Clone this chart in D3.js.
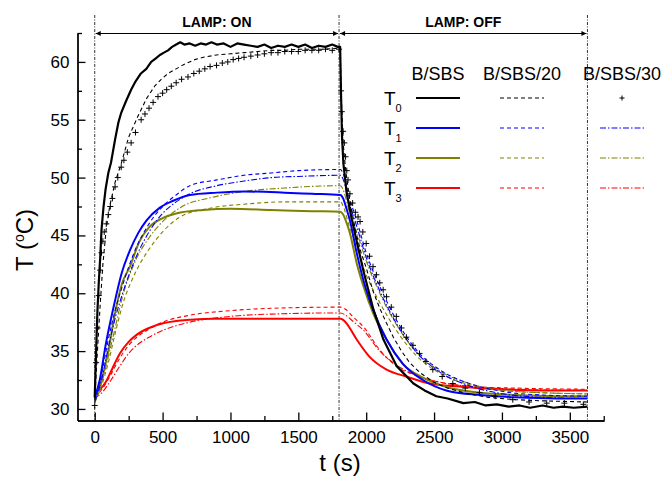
<!DOCTYPE html>
<html>
<head>
<meta charset="utf-8">
<script src="https://cdn.jsdelivr.net/npm/d3@7/dist/d3.min.js"></script>
<style>
body { margin: 0; background: #fff; }
svg { font-family: "Liberation Sans", Arial, sans-serif; }
.axis path, .axis line { stroke: #000; stroke-width: 1.3; }
.axis text { font-size: 17px; fill: #000; }
</style>
</head>
<body>
<svg id="chart" width="666" height="480"></svg>
<script>

// lamp on / lamp off / end of record (s)
var lampTimes = [ 0, 1800, 3630 ];
var lampLabels = [ 'LAMP: ON', 'LAMP: OFF' ];

var xTicks = [ 0, 500, 1000, 1500, 2000, 2500, 3000, 3500 ];
var xMinor = [ 250, 750, 1250, 1750, 2250, 2750, 3250, 3750 ];
var yTicks = [ 30, 35, 40, 45, 50, 55, 60 ];
var yMinor = [ 32.5, 37.5, 42.5, 47.5, 52.5, 57.5, 62.5 ];

var columns = [ 'B/SBS', 'B/SBS/20', 'B/SBS/30' ];
var rows = [ '0', '1', '2', '3' ];

// [t (s), T (°C)]
var bsbs_T0 = [[0,31],[5,33],[10,35],[20,38.5],[30,41],[40,43],[50,45.5],[65,47.5],[80,49],[100,50.4],[120,51.3],[150,53.3],[175,54.8],[195,55.6],[230,56.6],[268,57.6],[300,58.3],[340,59],[380,59.4],[416,60],[450,60.3],[480,60.6],[510,60.8],[540,61],[570,61.3],[600,61.5],[630,61.7],[660,61.5],[700,61.6],[740,61.4],[780,61.6],[820,61.5],[860,61.7],[900,61.5],[950,61.6],[1000,61.3],[1050,61.6],[1100,61.5],[1150,61.4],[1200,61.3],[1250,61.5],[1300,61.2],[1350,61.4],[1400,61.3],[1450,61.5],[1500,61.3],[1550,61.5],[1600,61.2],[1650,61.4],[1700,61.3],[1750,61.5],[1790,61.3],[1808,61.3],[1815,57],[1822,53.5],[1832,51.2],[1857,48.6],[1894,46.4],[1930,44.5],[1980,41.9],[2053,38.6],[2127,36],[2225,33.7],[2348,32.2],[2430,31.6],[2517,31.1],[2600,30.9],[2716,30.5],[2800,30.6],[2880,30.3],[2962,30.4],[3050,30.2],[3130,30.3],[3207,30.1],[3300,30.3],[3380,30.1],[3450,30.2],[3530,30.1],[3630,30.2]];
var bsbs_T1 = [[0,31],[37,32.5],[80,35.5],[135,38.6],[200,41.8],[259,43.7],[320,45.2],[382,46.3],[480,47.4],[578,48],[700,48.5],[900,48.7],[1100,48.8],[1400,48.7],[1600,48.6],[1810,48.5],[1830,48.2],[1855,47.3],[1880,46.3],[1930,43.5],[1980,41.1],[2050,38.6],[2150,36],[2270,33.9],[2418,32.5],[2590,31.6],[2840,31.2],[3100,31],[3400,30.9],[3630,30.9]];
var bsbs_T2 = [[0,30.8],[50,32.5],[100,35],[150,38.3],[200,40.8],[259,42.3],[330,44.5],[400,45.7],[500,46.5],[600,46.9],[800,47.2],[1000,47.3],[1300,47.2],[1600,47.1],[1810,47.05],[1830,46.8],[1855,46.1],[1880,45.2],[1930,42.6],[1980,40.6],[2050,38.3],[2150,36],[2270,33.9],[2418,32.7],[2590,31.9],[2840,31.4],[3100,31.2],[3400,31.1],[3630,31.1]];
var bsbs_T3 = [[0,31.5],[40,31.7],[80,32.3],[130,33.5],[185,34.8],[250,35.8],[308,36.4],[400,37],[503,37.4],[600,37.6],[700,37.7],[873,37.8],[1200,37.8],[1500,37.8],[1810,37.8],[1830,37.7],[1855,37.4],[1930,36],[2025,34.5],[2150,33.4],[2296,32.8],[2470,32.2],[2716,31.9],[3000,31.7],[3300,31.6],[3630,31.6]];

var bsbs20_T0 = [[0,30.8],[20,35],[40,39],[60,42.5],[84,45.5],[110,47.5],[150,49.6],[195,51.2],[250,53.5],[318,55.3],[380,56.8],[441,57.9],[490,58.5],[540,59],[600,59.4],[660,59.8],[737,60.2],[800,60.4],[897,60.6],[1000,60.7],[1100,60.8],[1200,60.9],[1300,61],[1400,61],[1500,61.1],[1600,61.1],[1700,61.1],[1808,61.2],[1818,56.5],[1830,53],[1850,50.5],[1880,48],[1920,45.5],[1960,43.6],[2000,42.2],[2050,40.2],[2100,38.7],[2150,37.4],[2200,36.2],[2260,35],[2320,34],[2400,33.1],[2500,32.3],[2600,31.8],[2750,31.3],[2900,31],[3100,30.8],[3300,30.7],[3630,30.6]];
var bsbs20_T1 = [[0,30.8],[50,33],[100,36],[150,38.5],[200,40.5],[300,43.8],[400,46],[500,47.5],[600,48.5],[700,49.3],[900,49.8],[1100,50.2],[1300,50.4],[1500,50.6],[1810,50.7],[1835,50.2],[1870,48.5],[1930,46.3],[2000,43.5],[2100,40.6],[2222,37.7],[2370,35.1],[2540,33.4],[2760,32.2],[3010,31.5],[3300,31.2],[3630,31.1]];
var bsbs20_T2 = [[0,30.6],[50,32],[100,34],[150,36.5],[200,38.8],[300,41.8],[400,43.8],[500,45.3],[630,46.6],[870,47.4],[1100,47.7],[1400,47.9],[1810,47.9],[1835,47.4],[1870,46],[1930,44],[2000,41.6],[2100,39.2],[2222,36.8],[2370,34.6],[2540,33.1],[2760,32.1],[3010,31.6],[3300,31.4],[3630,31.3]];
var bsbs20_T3 = [[0,31],[60,31.8],[120,33],[185,34.4],[250,35.5],[300,36.1],[400,36.9],[500,37.5],[700,38.1],[1000,38.5],[1300,38.7],[1810,38.8],[1850,38.6],[1900,38],[1980,37.1],[2100,35.1],[2222,33.7],[2393,32.8],[2590,32.2],[2840,31.9],[3100,31.8],[3630,31.7]];

var bsbs30_T0 = [[0,30.3],[10,34],[20,37],[30,39.8],[40,42],[50,43.5],[60,44.5],[70,45.3],[85,46],[100,46.8],[115,47.5],[130,48.2],[150,49.2],[170,50],[195,50.9],[215,51.5],[240,52.2],[268,53],[300,53.9],[342,55],[370,55.5],[400,56],[430,56.5],[466,57],[500,57.3],[530,57.6],[564,57.9],[600,58.2],[640,58.5],[687,58.7],[730,59],[770,59.2],[811,59.4],[850,59.6],[897,59.7],[940,59.9],[980,60],[1020,60.2],[1060,60.3],[1100,60.4],[1150,60.5],[1200,60.6],[1250,60.7],[1300,60.8],[1350,60.8],[1400,60.9],[1450,60.9],[1500,60.9],[1550,61],[1600,61],[1650,61],[1700,61.1],[1750,61],[1800,61.1],[1815,57.5],[1820,55.7],[1830,54],[1839,53],[1848,51.8],[1857,50.6],[1866,49.8],[1880,48.6],[1900,47.8],[1920,47],[1940,46.6],[1955,46.2],[1975,45.3],[2000,44.3],[2025,43.2],[2050,42.3],[2075,41.6],[2100,40.9],[2125,40.3],[2150,39.7],[2185,38.8],[2222,38],[2260,37],[2296,36.2],[2345,35.5],[2393,34.8],[2440,34.1],[2491,33.4],[2560,32.8],[2638,32.2],[2730,31.8],[2834,31.4],[2950,31.1],[3080,30.8],[3200,30.6],[3330,30.5],[3460,30.5],[3600,30.4]];
var bsbs30_T1 = [[0,30.6],[50,32.5],[100,35.3],[150,37.8],[200,39.8],[300,43],[400,45.3],[500,46.9],[600,47.9],[700,48.6],[900,49.3],[1100,49.7],[1300,50],[1500,50.1],[1810,50.2],[1835,49.7],[1870,48],[1930,45.8],[2000,43.1],[2100,40.2],[2222,37.4],[2370,34.9],[2540,33.2],[2760,32],[3010,31.3],[3300,31],[3630,30.9]];
var bsbs30_T2 = [[0,30.5],[50,32.2],[100,34.5],[150,37],[200,39.5],[300,42.8],[400,44.8],[500,46.2],[630,47.4],[870,48.3],[1100,48.8],[1400,49.1],[1810,49.3],[1835,48.8],[1870,47.3],[1930,45.3],[2000,42.8],[2100,40],[2222,37.3],[2370,34.9],[2540,33.3],[2760,32.2],[3010,31.6],[3300,31.4],[3630,31.3]];
var bsbs30_T3 = [[0,30.9],[60,31.5],[120,32.5],[185,33.7],[250,34.8],[300,35.4],[400,36.2],[503,36.8],[700,37.5],[1000,38],[1300,38.2],[1810,38.3],[1850,38.1],[1900,37.6],[1980,36.8],[2100,35],[2222,33.8],[2393,32.8],[2590,32.2],[2840,31.9],[3100,31.7],[3630,31.6]];

var colors = [ '#000000', '#0000ff', '#808000', '#ff0000' ];

var series = [
	{ data: bsbs_T3, row: 3, col: 0 },
	{ data: bsbs20_T3, row: 3, col: 1 },
	{ data: bsbs30_T3, row: 3, col: 2 },
	{ data: bsbs_T2, row: 2, col: 0 },
	{ data: bsbs20_T2, row: 2, col: 1 },
	{ data: bsbs30_T2, row: 2, col: 2 },
	{ data: bsbs_T1, row: 1, col: 0 },
	{ data: bsbs20_T1, row: 1, col: 1 },
	{ data: bsbs30_T1, row: 1, col: 2 },
	{ data: bsbs30_T0, row: 0, col: 2 },
	{ data: bsbs20_T0, row: 0, col: 1 },
	{ data: bsbs_T0, row: 0, col: 0 }
];

var styleFor = function ( s ) {
	if ( s.col === 0 ) return { width: s.row === 0 ? 2.2 : 2, dash: null, curve: s.row === 0 ? d3.curveLinear : d3.curveMonotoneX };
	if ( s.col === 1 ) return { width: 1.1, dash: '4,3', curve: s.row === 0 ? d3.curveLinear : d3.curveMonotoneX };
	return { width: 1.1, dash: '6,2,1.5,2', curve: d3.curveMonotoneX };
};

var svg = d3.select( '#chart' );

var x = d3.scaleLinear().domain( [ -127, 3752 ] ).range( [ 77.5, 604 ] );
var y = d3.scaleLinear().domain( [ 29, 62.5 ] ).range( [ 420.5, 33 ] );

svg.append( 'clipPath' ).attr( 'id', 'plotclip' )
	.append( 'rect' )
	.attr( 'x', x.range()[0] ).attr( 'y', y.range()[1] - 4 )
	.attr( 'width', x.range()[1] - x.range()[0] )
	.attr( 'height', y.range()[0] - y.range()[1] + 4 );

// lamp markers
var defs = svg.append( 'defs' );
defs.append( 'marker' )
	.attr( 'id', 'arrow' )
	.attr( 'viewBox', '0 0 10 10' )
	.attr( 'refX', 10 ).attr( 'refY', 5 )
	.attr( 'markerWidth', 7 ).attr( 'markerHeight', 5 )
	.attr( 'markerUnits', 'userSpaceOnUse' )
	.attr( 'orient', 'auto-start-reverse' )
	.append( 'path' )
	.attr( 'd', 'M0,0L10,5L0,10z' )
	.attr( 'fill', '#000' );

svg.selectAll( 'line.lamp' )
	.data( lampTimes )
	.enter()
	.append( 'line' )
	.classed( 'lamp', true )
	.attr( 'x1', function ( d ) { return x( d ); } )
	.attr( 'x2', function ( d ) { return x( d ); } )
	.attr( 'y1', 15 )
	.attr( 'y2', y.range()[0] )
	.attr( 'stroke', '#333' )
	.attr( 'stroke-width', 1 )
	.attr( 'stroke-dasharray', '3,1.5,1,1.5' );

lampLabels.forEach( function ( label, i ) {
	var a = lampTimes[i], b = lampTimes[i + 1];
	svg.append( 'line' )
		.attr( 'x1', x( a ) + 1 ).attr( 'x2', x( b ) - 1 )
		.attr( 'y1', 33.5 ).attr( 'y2', 33.5 )
		.attr( 'stroke', '#000' )
		.attr( 'stroke-width', 1 )
		.attr( 'marker-start', 'url(#arrow)' )
		.attr( 'marker-end', 'url(#arrow)' );
	svg.append( 'text' )
		.attr( 'x', ( x( a ) + x( b ) ) / 2 )
		.attr( 'y', 27 )
		.attr( 'text-anchor', 'middle' )
		.style( 'font-size', '14px' )
		.style( 'font-weight', 'bold' )
		.text( label );
} );

// axes
var xAxis = d3.axisBottom( x ).tickValues( xTicks ).tickSize( -8 ).tickSizeOuter( 0 ).tickPadding( 10 ).tickFormat( d3.format( 'd' ) );
var xAxisMinor = d3.axisBottom( x ).tickValues( xMinor.filter( function ( d ) { return d <= x.domain()[1]; } ) ).tickSize( -4.5 ).tickSizeOuter( 0 ).tickFormat( '' );
var yAxis = d3.axisLeft( y ).tickValues( yTicks ).tickSize( -8 ).tickSizeOuter( 0 ).tickPadding( 8 ).tickFormat( d3.format( 'd' ) );
var yAxisMinor = d3.axisLeft( y ).tickValues( yMinor ).tickSize( -4.5 ).tickSizeOuter( 0 ).tickFormat( '' );

svg.append( 'g' ).classed( 'axis', true )
	.attr( 'transform', 'translate(0,' + y.range()[0] + ')' )
	.call( xAxis );
svg.append( 'g' ).classed( 'axis', true )
	.attr( 'transform', 'translate(0,' + y.range()[0] + ')' )
	.call( xAxisMinor );
svg.append( 'g' ).classed( 'axis', true )
	.attr( 'transform', 'translate(' + x.range()[0] + ',0)' )
	.call( yAxis );
svg.append( 'g' ).classed( 'axis', true )
	.attr( 'transform', 'translate(' + x.range()[0] + ',0)' )
	.call( yAxisMinor );

svg.append( 'text' )
	.attr( 'x', 340 ).attr( 'y', 471 )
	.attr( 'text-anchor', 'middle' )
	.style( 'font-size', '24px' )
	.text( 't (s)' );

var yTitle = svg.append( 'text' )
	.attr( 'transform', 'translate(33,240) rotate(-90)' )
	.attr( 'text-anchor', 'middle' )
	.style( 'font-size', '24px' );
yTitle.append( 'tspan' ).text( 'T (' );
yTitle.append( 'tspan' ).attr( 'dy', -9 ).style( 'font-size', '14px' ).text( 'o' );
yTitle.append( 'tspan' ).attr( 'dy', 9 ).text( 'C)' );

// curves
var plot = svg.append( 'g' ).attr( 'clip-path', 'url(#plotclip)' );

var plus = function ( sel, size ) {
	sel.attr( 'd', 'M' + ( -size ) + ',0H' + size + 'M0,' + ( -size ) + 'V' + size )
		.attr( 'stroke', '#000' )
		.attr( 'stroke-width', 1 )
		.attr( 'fill', 'none' );
};

series.forEach( function ( s ) {
	var color = colors[s.row];
	if ( s.row === 0 && s.col === 2 ) {
		plot.append( 'g' ).selectAll( 'path' )
			.data( s.data )
			.enter()
			.append( 'path' )
			.attr( 'transform', function ( d ) { return 'translate(' + x( d[0] ) + ',' + y( d[1] ) + ')'; } )
			.call( plus, 3 );
		return;
	}
	var st = styleFor( s );
	var line = d3.line()
		.x( function ( d ) { return x( d[0] ); } )
		.y( function ( d ) { return y( d[1] ); } )
		.curve( st.curve );
	plot.append( 'path' )
		.datum( s.data )
		.attr( 'd', line )
		.attr( 'fill', 'none' )
		.attr( 'stroke', color )
		.attr( 'stroke-width', st.width )
		.attr( 'stroke-linejoin', 'round' )
		.attr( 'stroke-dasharray', st.dash );
} );

// legend
var colCenters = [ 438, 522, 622 ];
var rowY = [ 98, 128, 158, 188 ];

svg.selectAll( 'text.colhead' )
	.data( columns )
	.enter()
	.append( 'text' )
	.classed( 'colhead', true )
	.attr( 'x', function ( d, i ) { return colCenters[i]; } )
	.attr( 'y', 80 )
	.attr( 'text-anchor', 'middle' )
	.style( 'font-size', '18px' )
	.text( function ( d ) { return d; } );

rows.forEach( function ( r, i ) {
	var t = svg.append( 'text' )
		.attr( 'x', 384 ).attr( 'y', rowY[i] + 7 )
		.style( 'font-size', '19px' );
	t.append( 'tspan' ).text( 'T' );
	t.append( 'tspan' ).attr( 'dy', 7 ).style( 'font-size', '11px' ).text( r );
} );

series.forEach( function ( s ) {
	var cy = rowY[s.row];
	var cx = colCenters[s.col];
	if ( s.row === 0 && s.col === 2 ) {
		svg.append( 'path' )
			.attr( 'transform', 'translate(' + cx + ',' + cy + ')' )
			.call( plus, 2.5 );
		return;
	}
	var st = styleFor( s );
	svg.append( 'line' )
		.attr( 'x1', cx - 22 ).attr( 'x2', cx + 22 )
		.attr( 'y1', cy ).attr( 'y2', cy )
		.attr( 'stroke', colors[s.row] )
		.attr( 'stroke-width', st.width )
		.attr( 'stroke-dasharray', st.dash );
} );

</script>
</body>
</html>
